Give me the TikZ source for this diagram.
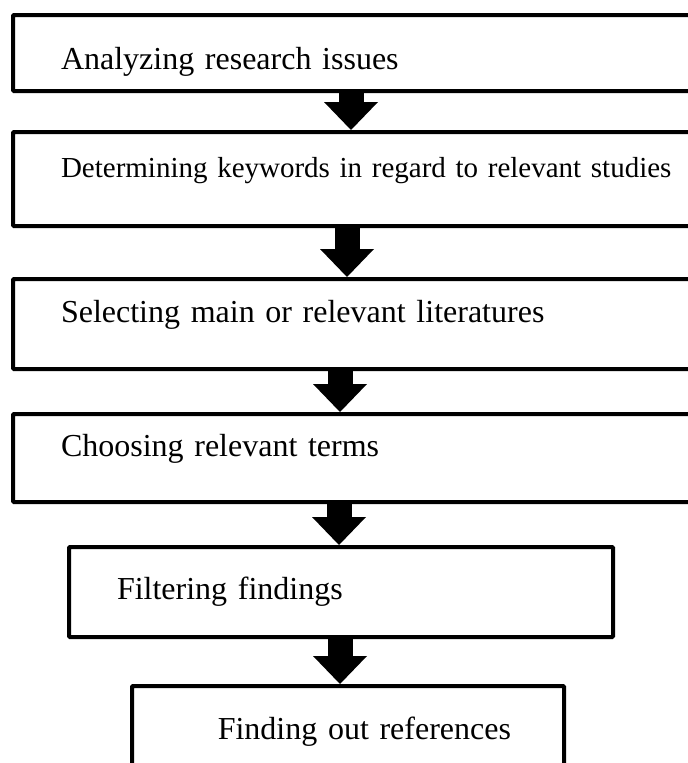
\documentclass[tikz,border=0pt]{standalone}
\usepackage{fontspec}
\setmainfont{Liberation Serif}
\usetikzlibrary{arrows.meta,calc}
\tikzset{
  stepbox/.style={draw, line width=4pt, rounded corners=1pt, anchor=north west, inner xsep=48pt, inner ysep=0pt, align=left, font=\fontsize{32}{38}\selectfont},
  flowarrow/.style={line width=25pt, -{Triangle[width=54pt,length=28pt,line width=0pt]}}
}

\begin{document}
\begin{tikzpicture}[x=1pt,y=-1pt]
\useasboundingbox (0,0) rectangle (688,763);
\clip (0,0) rectangle (688,763);
\node[stepbox, text width=633pt, text height=54pt, text depth=22pt] (analyze) at (11,13) {Analyzing research issues};
\node[stepbox, text width=633pt, text height=45pt, text depth=49pt, font=\fontsize{29}{35}\selectfont] (keywords) at (11,130) {Determining keywords in regard to relevant studies};
\node[stepbox, text width=633pt, text height=43pt, text depth=47pt] (select) at (11,277) {Selecting main or relevant literatures};
\node[stepbox, text width=633pt, text height=42pt, text depth=46pt] (terms) at (11,412) {Choosing relevant terms};
\node[stepbox, text width=448pt, text height=52pt, text depth=38pt] (filter) at (67,545) {Filtering findings};
\node[stepbox, text width=326pt, text height=53pt, text depth=70pt, inner xsep=53pt, align=right] (refs) at (130,684) {Finding out references};
\draw[flowarrow] ($(analyze.south west)+(340,0)$) -- ($(keywords.north west)+(340,0)$);
\draw[flowarrow] ($(keywords.south west)+(336,0)$) -- ($(select.north west)+(336,0)$);
\draw[flowarrow] ($(select.south west)+(329,0)$) -- ($(terms.north west)+(329,0)$);
\draw[flowarrow] ($(terms.south west)+(328,0)$) -- ($(filter.north west)+(272,0)$);
\draw[flowarrow] ($(filter.south west)+(273,0)$) -- ($(refs.north west)+(210,0)$);
\end{tikzpicture}
\end{document}
